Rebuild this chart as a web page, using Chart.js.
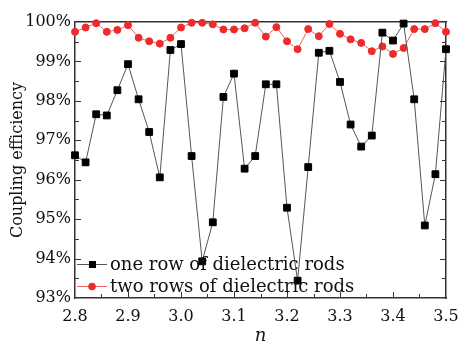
<!DOCTYPE html>
<html>
<head>
<meta charset="utf-8">
<script src="https://cdn.jsdelivr.net/npm/chart.js@4.4.1/dist/chart.umd.min.js"></script>
<style>
  html, body { margin: 0; padding: 0; background: #fff; overflow: hidden; }
  canvas { display: block; }
</style>
</head>
<body>
<canvas id="chart" width="460" height="344"></canvas>
<script>
const nValues = [2.80, 2.82, 2.84, 2.86, 2.88, 2.90, 2.92, 2.94, 2.96, 2.98,
                 3.00, 3.02, 3.04, 3.06, 3.08, 3.10, 3.12, 3.14, 3.16, 3.18,
                 3.20, 3.22, 3.24, 3.26, 3.28, 3.30, 3.32, 3.34, 3.36, 3.38,
                 3.40, 3.42, 3.44, 3.46, 3.48, 3.50];

// one row of dielectric rods (%)
const oneRow = [96.62, 96.44, 97.66, 97.63, 98.27, 98.93, 98.04, 97.21, 96.06, 99.29,
                99.44, 96.60, 93.93, 94.92, 98.10, 98.69, 96.28, 96.60, 98.42, 98.42,
                95.29, 93.44, 96.32, 99.22, 99.27, 98.48, 97.40, 96.84, 97.12, 99.73,
                99.53, 99.96, 98.04, 94.84, 96.14, 99.31];

// two rows of dielectric rods (%)
const twoRows = [99.75, 99.86, 99.97, 99.75, 99.80, 99.92, 99.60, 99.51, 99.45, 99.60,
                 99.86, 99.98, 99.98, 99.94, 99.81, 99.81, 99.84, 99.98, 99.63, 99.87,
                 99.51, 99.31, 99.82, 99.64, 99.95, 99.70, 99.56, 99.47, 99.26, 99.38,
                 99.19, 99.34, 99.82, 99.82, 99.97, 99.75];

const seriesLabels = ['one row of dielectric rods', 'two rows of dielectric rods'];
const xTicks = [2.8, 2.9, 3.0, 3.1, 3.2, 3.3, 3.4, 3.5];
const yTicks = [93, 94, 95, 96, 97, 98, 99, 100];

const serif = '"DejaVu Serif", "Liberation Serif", serif';
const axisColor = '#333333';

function toPoints(ys) {
    return nValues.map((x, i) => ({ x: x, y: ys[i] }));
}

// inward ticks, then the legend inside the plot
const framePlugin = {
    id: 'plotFrame',
    afterDraw(chart) {
        const ctx = chart.ctx;
        const a = chart.chartArea;
        const xs = chart.scales.x;
        const ys = chart.scales.y;
        const l = Math.round(a.left), r = Math.round(a.right);
        const b = Math.round(a.bottom);
        ctx.save();
        ctx.fillStyle = axisColor;
        for (let k = 1; k < 14; k++) {
            const px = Math.round(xs.getPixelForValue(2.8 + k * 0.05));
            const len = k % 2 === 0 ? 6 : 4;
            ctx.fillRect(px, b - len, 1, len);
        }
        for (let k = 1; k < 14; k++) {
            const py = Math.round(ys.getPixelForValue(93 + k * 0.5));
            const len = k % 2 === 0 ? 6 : 4;
            ctx.fillRect(l, py, len, 1);
            ctx.fillRect(r - len, py, len, 1);
        }

        ctx.font = '18px ' + serif;
        ctx.textBaseline = 'middle';
        ctx.textAlign = 'left';
        chart.data.datasets.forEach((ds, i) => {
            const y = b - 34 + i * 22;
            const x0 = l + 2;
            ctx.fillStyle = ds.borderColor;
            ctx.fillRect(x0, y, 30, 1);
            ctx.fillStyle = ds.pointBackgroundColor;
            if (ds.pointStyle === 'rect') {
                ctx.fillRect(x0 + 12, y - 3, 7, 7);
            } else {
                ctx.beginPath();
                ctx.arc(x0 + 15, y + 0.5, 3.8, 0, Math.PI * 2);
                ctx.fill();
            }
            ctx.fillStyle = '#111111';
            ctx.fillText(ds.label, x0 + 33, y + 1);
        });
        ctx.restore();
    }
};

new Chart(document.getElementById('chart').getContext('2d'), {
    type: 'line',
    data: {
        datasets: [
            {
                label: seriesLabels[0],
                data: toPoints(oneRow),
                borderColor: '#555555',
                borderWidth: 1,
                pointStyle: 'rect',
                pointRadius: 4.8,
                pointBackgroundColor: '#000000',
                pointBorderColor: '#000000',
                pointBorderWidth: 1,
                tension: 0,
                clip: false,
            },
            {
                label: seriesLabels[1],
                data: toPoints(twoRows),
                borderColor: '#f06060',
                borderWidth: 1,
                pointStyle: 'circle',
                pointRadius: 3.5,
                pointBackgroundColor: '#ee2a2a',
                pointBorderColor: '#ee2a2a',
                pointBorderWidth: 1,
                tension: 0,
                clip: false,
            },
        ],
    },
    options: {
        responsive: false,
        animation: false,
        events: [],
        layout: { padding: { top: 22, right: 14, left: 0, bottom: 0 } },
        plugins: {
            legend: { display: false },
            tooltip: { enabled: false },
        },
        scales: {
            x: {
                type: 'linear',
                position: 'bottom',
                min: 2.8,
                max: 3.5,
                afterBuildTicks: (scale) => { scale.ticks = xTicks.map(v => ({ value: v })); },
                afterFit: (scale) => {
                    scale.height = 46;
                    scale.paddingLeft = 0;
                    scale.paddingRight = 0;
                },
                grid: { display: false, drawTicks: false },
                border: { display: true, color: axisColor, width: 1.5 },
                ticks: {
                    color: '#111111',
                    padding: 9,
                    font: { family: serif, size: 16 },
                    callback: (v) => Number(v).toFixed(1),
                },
                title: {
                    display: true,
                    text: 'n',
                    color: '#111111',
                    padding: { top: 0, bottom: -3 },
                    font: { family: serif, size: 18, style: 'italic' },
                },
            },
            xTop: {
                type: 'linear',
                position: 'top',
                min: 2.8,
                max: 3.5,
                afterFit: (scale) => {
                    scale.height = 0;
                    scale.paddingLeft = 0;
                    scale.paddingRight = 0;
                },
                grid: { display: false, drawTicks: false },
                border: { display: true, color: axisColor, width: 1.5 },
                ticks: { display: false },
            },
            y: {
                position: 'left',
                min: 93,
                max: 100,
                afterBuildTicks: (scale) => { scale.ticks = yTicks.map(v => ({ value: v })); },
                afterFit: (scale) => {
                    scale.width = 75;
                    scale.paddingTop = 0;
                    scale.paddingBottom = 0;
                },
                grid: { display: false, drawTicks: false },
                border: { display: true, color: axisColor, width: 1.5 },
                ticks: {
                    color: '#111111',
                    padding: 4,
                    font: { family: serif, size: 16 },
                    callback: (v) => v + '%',
                },
                title: {
                    display: true,
                    text: 'Coupling efficiency',
                    color: '#111111',
                    padding: { top: 8, bottom: 0 },
                    font: { family: serif, size: 16 },
                },
            },
            yRight: {
                position: 'right',
                min: 93,
                max: 100,
                afterFit: (scale) => {
                    scale.width = 0;
                    scale.paddingTop = 0;
                    scale.paddingBottom = 0;
                },
                grid: { display: false, drawTicks: false },
                border: { display: true, color: axisColor, width: 1.5 },
                ticks: { display: false },
            },
        },
    },
    plugins: [framePlugin],
});
</script>
</body>
</html>
